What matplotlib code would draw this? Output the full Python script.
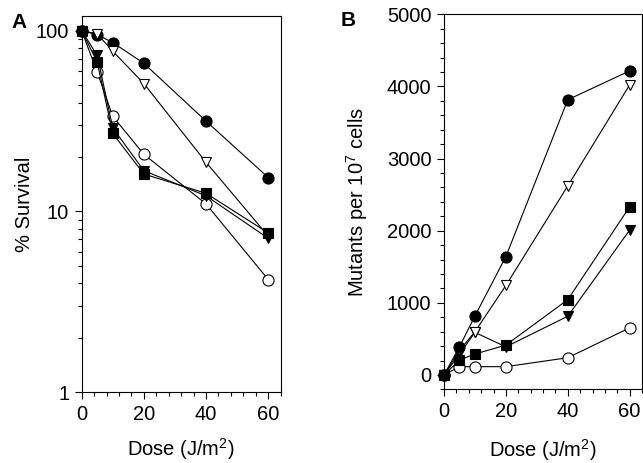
import matplotlib
matplotlib.use('Agg')
import matplotlib.pyplot as plt
from matplotlib.ticker import MultipleLocator, LogLocator, NullFormatter, FixedLocator

plt.rcParams['font.family'] = ['Liberation Sans', 'DejaVu Sans']
plt.rcParams['mathtext.fontset'] = 'custom'
plt.rcParams['mathtext.rm'] = 'Liberation Sans'

dose = [0, 5, 10, 20, 40, 60]

# panel A: % survival
surv_filled_circle = [100, 95, 86, 66, 31.6, 15.4]
surv_open_tri = [100, 96, 77, 51, 18.7, 7.3]
surv_filled_square = [100, 67, 27, 16.1, 12.6, 7.6]
surv_filled_tri = [100, 73, 29, 16.8, 12.2, 7.1]
surv_open_circle = [100, 59, 33.6, 20.7, 11.0, 4.2]

# panel B: mutants per 10^7 cells
mut_filled_circle = [0, 390, 818, 1641, 3816, 4216]
mut_open_tri = [0, 340, 600, 1241, 2621, 4023]
mut_filled_square = [0, 207, 290, 414, 1044, 2331]
mut_filled_tri = [0, 290, 590, 390, 814, 2009]
mut_open_circle = [0, 115, 115, 115, 239, 653]

# marker, face colour
styles = [
    ('o', 'black'),
    ('v', 'white'),
    ('s', 'black'),
    ('v', 'black'),
    ('o', 'white'),
]
# stacking order of the series in each panel
zA = [3.5, 4, 5, 4.5, 3]
zB = [4.5, 4, 5, 3.5, 3]
surv = [surv_filled_circle, surv_open_tri, surv_filled_square, surv_filled_tri, surv_open_circle]
mut = [mut_filled_circle, mut_open_tri, mut_filled_square, mut_filled_tri, mut_open_circle]

FS = 14.5

fig = plt.figure(figsize=(6.43, 4.63), dpi=100)
axA = fig.add_axes([0.127, 0.153, 0.3095, 0.813])
axB = fig.add_axes([0.6905, 0.159, 0.308, 0.810])

def msize(m):
    return {'o': 8, 'v': 7.8, 's': 7}[m]

for ys, (m, fc), z in zip(surv, styles, zA):
    axA.plot(dose, ys, color='black', lw=0.8, marker=m, ms=msize(m),
             mfc=fc, mec='black', mew=0.8, clip_on=False, zorder=z)
for ys, (m, fc), z in zip(mut, styles, zB):
    axB.plot(dose, ys, color='black', lw=0.8, marker=m, ms=msize(m),
             mfc=fc, mec='black', mew=0.8, clip_on=False, zorder=z)

axA.set_yscale('log')
axA.set_ylim(1, 121)
axA.yaxis.set_major_locator(FixedLocator([1, 10, 100]))
axA.set_yticklabels(['1', '10', '100'])
axA.yaxis.set_minor_locator(LogLocator(base=10, subs=range(2, 10)))
axA.yaxis.set_minor_formatter(NullFormatter())
axA.set_ylabel('% Survival', fontsize=FS)
axA.yaxis.set_label_coords(-0.24, 0.5)
axA.set_xlabel('Dose (J/m$^2$)', fontsize=FS)
axA.xaxis.set_label_coords(0.5, -0.118)

axB.set_ylim(-200, 5000)
axB.yaxis.set_major_locator(MultipleLocator(1000))
axB.yaxis.set_minor_locator(MultipleLocator(200))
axB.set_ylabel('Mutants per 10$^7$ cells', fontsize=FS)
axB.yaxis.set_label_coords(-0.376, 0.5)
axB.set_xlabel('Dose (J/m$^2$)', fontsize=FS)
axB.xaxis.set_label_coords(0.5, -0.126)

for ax in (axA, axB):
    ax.set_xlim(0, 64)
    ax.xaxis.set_major_locator(FixedLocator([0, 20, 40, 60]))
    ax.xaxis.set_minor_locator(MultipleLocator(4))
    ax.tick_params(which='major', direction='out', length=5, width=0.8, labelsize=FS, pad=4)
    ax.tick_params(which='minor', direction='out', length=3, width=0.8)
    for s in ax.spines.values():
        s.set_linewidth(0.8)

fig.text(19 / 643, 1 - 23 / 463, 'A', fontsize=15, fontweight='bold', ha='center', va='center')
fig.text(348 / 643, 1 - 21 / 463, 'B', fontsize=15, fontweight='bold', ha='center', va='center')

fig.savefig('out.png', dpi=100)
